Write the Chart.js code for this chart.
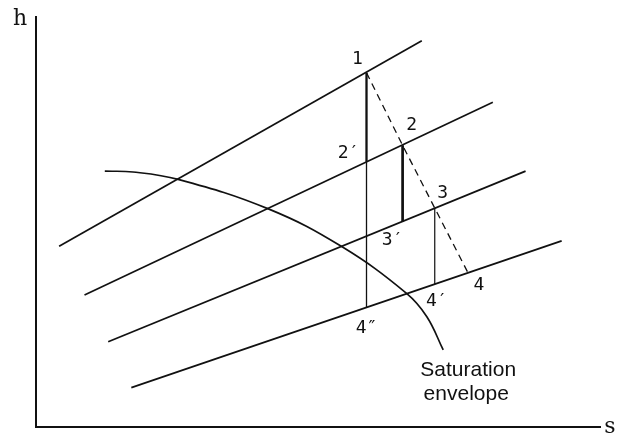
<!DOCTYPE html>
<html>
<head>
<meta charset="utf-8">
<script src="https://cdn.jsdelivr.net/npm/chart.js@4/dist/chart.umd.min.js"></script>
<style>
  html, body { margin:0; padding:0; background:#fff; }
  #wrap { width:618px; height:437px; position:relative; }
</style>
</head>
<body>
<div id="wrap"><canvas id="c"></canvas></div>
<script>
// isobars (straight lines in the h-s plane), start/end values
const isobarS = [[0.41, 6.84], [0.86, 8.10], [1.28, 8.68], [1.69, 9.32]];
const isobarH = [[4.41, 9.42], [3.22, 7.92], [2.08, 6.24], [0.96, 4.54]];

// actual expansion states 1..4
const stateNames = ['1', '2', '3', '4'];
const stateS = [5.86, 6.50, 7.07, 7.66];
const stateH = [8.64, 6.87, 5.34, 3.76];

// isentropic end states
const isenNames = ['2′', '3′', '4′', '4″'];
const isenS = [5.86, 6.50, 7.07, 5.86];
const isenH = [6.47, 5.01, 3.48, 2.92];

// saturation envelope
const satS = [1.22, 1.72, 2.52, 4.12, 5.42, 6.57, 6.93, 7.22];
const satH = [6.24, 6.22, 6.04, 5.32, 4.40, 3.26, 2.69, 1.88];

const pts = (xs, ys) => xs.map((x, i) => ({ x, y: ys[i] }));
const seg = (s1, h1, s2, h2) => [{ x: s1, y: h1 }, { x: s2, y: h2 }];

const base = { showLine: true, pointRadius: 0, borderColor: '#111', fill: false, tension: 0 };

const datasets = [];
isobarS.forEach((s, i) => {
  datasets.push({ ...base, data: pts(s, isobarH[i]), borderWidth: 1.7 });
});
datasets.push({ ...base, data: pts(satS, satH), borderWidth: 1.7, tension: 0.4 });
// expansion line 1-2-3-4
datasets.push({ ...base, data: pts(stateS, stateH), borderWidth: 1.3, borderDash: [7, 5] });
// isentropic drops
datasets.push({ ...base, data: seg(stateS[0], stateH[0], isenS[0], isenH[0]), borderWidth: 2.3 });
datasets.push({ ...base, data: seg(isenS[0], isenH[0], isenS[3], isenH[3]), borderWidth: 1.3 });
datasets.push({ ...base, data: seg(stateS[1], stateH[1], isenS[1], isenH[1]), borderWidth: 2.7 });
datasets.push({ ...base, data: seg(stateS[2], stateH[2], isenS[2], isenH[2]), borderWidth: 1.2 });

// label offsets in px from their point
const stateOff = [[-9, -13], [9, -20], [8, -15], [11, 12]];
const isenOff = [[-18, -8], [-10, 19], [2, 17], [0, 21]];

const labels = {
  id: 'labels',
  afterDatasetsDraw(chart) {
    const { ctx, scales: { x, y }, chartArea: a } = chart;
    ctx.save();
    ctx.fillStyle = '#111';
    ctx.textAlign = 'center';
    ctx.textBaseline = 'middle';
    ctx.font = '18px "DejaVu Sans Mono"';
    stateNames.forEach((n, i) => {
      ctx.fillText(n, x.getPixelForValue(stateS[i]) + stateOff[i][0], y.getPixelForValue(stateH[i]) + stateOff[i][1]);
    });
    isenNames.forEach((n, i) => {
      ctx.fillText(n, x.getPixelForValue(isenS[i]) + isenOff[i][0], y.getPixelForValue(isenH[i]) + isenOff[i][1]);
    });
    // envelope caption
    const ex = x.getPixelForValue(satS[satS.length - 1]);
    const ey = y.getPixelForValue(satH[satH.length - 1]);
    ctx.font = '21px "Liberation Sans"';
    ctx.fillText('Saturation', ex + 25, ey + 20);
    ctx.fillText('envelope', ex + 23, ey + 44);
    // axis names
    ctx.font = '22px "DejaVu Serif"';
    ctx.fillText('h', a.left - 16, a.top + 2);
    ctx.fillText('s', a.right + 10, a.bottom);
    ctx.restore();
  }
};

new Chart(document.getElementById('c'), {
  type: 'scatter',
  data: { datasets },
  options: {
    responsive: true,
    maintainAspectRatio: false,
    animation: false,
    layout: { padding: { left: 36, right: 18, top: 17, bottom: 10 } },
    plugins: { legend: { display: false }, tooltip: { enabled: false } },
    scales: {
      x: {
        type: 'linear', min: 0, max: 10,
        grid: { display: false, drawTicks: false },
        ticks: { display: false },
        border: { display: true, color: '#111', width: 2 }
      },
      y: {
        type: 'linear', min: 0, max: 10,
        grid: { display: false, drawTicks: false },
        ticks: { display: false },
        border: { display: true, color: '#111', width: 2 }
      }
    }
  },
  plugins: [labels]
});
</script>
</body>
</html>
